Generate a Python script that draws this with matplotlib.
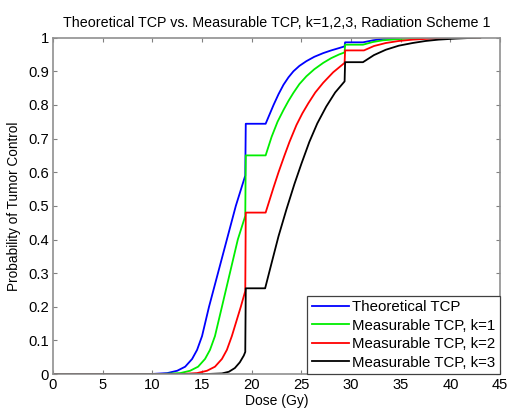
import numpy as np
import matplotlib
matplotlib.use('Agg')
import matplotlib.pyplot as plt

plt.rcParams['font.family'] = ['Liberation Sans', 'DejaVu Sans']

# Theoretical TCP
blue_dose = [0, 10, 11.5, 12.5, 13.3, 14.0, 14.5, 15.0, 15.7, 16.6, 17.5, 18.4, 19.35,
             19.4, 21.4, 22.2, 22.7, 23.2, 23.7, 24.2, 24.8, 25.5, 26.3, 27.2, 28.0, 28.8, 29.35,
             29.4, 31.2, 32.2, 33.2, 35.5, 38, 43]
blue_tcp = [0, 0.0005, 0.003, 0.01, 0.022, 0.045, 0.072, 0.113, 0.2, 0.3, 0.4, 0.5, 0.59,
            0.744, 0.744, 0.8, 0.832, 0.86, 0.882, 0.9, 0.916, 0.93, 0.943, 0.954, 0.962, 0.969, 0.974,
            0.986, 0.986, 0.992, 0.996, 0.999, 1.0, 1.0]

# Measurable TCP, k=1
green_dose = [0, 11, 12.8, 13.8, 14.6, 15.3, 15.8, 16.3, 17.0, 17.8, 18.6, 19.35,
              19.4, 21.4, 22.0, 22.6, 23.2, 23.7, 24.2, 24.8, 25.5, 26.3, 27.2, 28.0, 28.8, 29.35,
              29.4, 31.2, 32.2, 33.2, 34.5, 36, 40, 43]
green_tcp = [0, 0.0005, 0.003, 0.01, 0.022, 0.045, 0.072, 0.113, 0.2, 0.3, 0.4, 0.47,
             0.65, 0.65, 0.705, 0.75, 0.785, 0.812, 0.836, 0.862, 0.885, 0.906, 0.925, 0.939, 0.95, 0.956,
             0.979, 0.979, 0.987, 0.992, 0.995, 0.998, 1.0, 1.0]

# Measurable TCP, k=2
red_dose = [0, 13, 14.5, 15.5, 16.3, 17.0, 17.5, 18.0, 18.9, 19.35,
            19.4, 21.4, 22.2, 22.7, 23.3, 23.8, 24.5, 25.1, 25.7, 26.4, 27.2, 28.2, 29.35,
            29.4, 31.3, 32.3, 33.5, 34.8, 36.2, 38, 40, 43]
red_tcp = [0, 0.0005, 0.003, 0.01, 0.022, 0.045, 0.072, 0.113, 0.2, 0.247,
           0.48, 0.48, 0.555, 0.6, 0.65, 0.69, 0.74, 0.775, 0.805, 0.837, 0.866, 0.897, 0.925,
           0.962, 0.962, 0.975, 0.984, 0.99, 0.994, 0.997, 0.999, 1.0]

# Measurable TCP, k=3
black_dose = [0, 15.5, 17.0, 17.7, 18.3, 18.8, 19.2, 19.35,
              19.4, 21.35, 22.0, 22.7, 23.5, 24.3, 25.0, 25.8, 26.6, 27.5, 28.4, 29.35,
              29.4, 31.2, 32.3, 33.5, 34.8, 36.2, 37.5, 38.8, 40.5, 42.8, 43]
black_tcp = [0, 0.0003, 0.002, 0.007, 0.018, 0.035, 0.055, 0.066,
             0.255, 0.255, 0.33, 0.41, 0.49, 0.565, 0.625, 0.69, 0.745, 0.795, 0.837, 0.87,
             0.927, 0.927, 0.948, 0.964, 0.976, 0.984, 0.99, 0.994, 0.997, 1.0, 1.0]

fig = plt.figure(figsize=(5.15, 4.18), dpi=100)
ax = fig.add_axes([0.103, 0.105, 0.868, 0.805])

lw = 1.3
ax.plot(blue_dose, blue_tcp, color='#0000ff', lw=lw, label='Theoretical TCP')
ax.plot(green_dose, green_tcp, color='#00ee00', lw=lw, label='Measurable TCP, k=1')
ax.plot(red_dose, red_tcp, color='#ff0000', lw=lw, label='Measurable TCP, k=2')
ax.plot(black_dose, black_tcp, color='#000000', lw=lw, label='Measurable TCP, k=3')

ax.set_xlim(0, 45)
ax.set_ylim(0, 1)
ax.set_xticks(np.arange(0, 46, 5))
ax.set_yticks(np.arange(0, 1.01, 0.1))
ax.set_yticklabels(['0', '0.1', '0.2', '0.3', '0.4', '0.5', '0.6', '0.7', '0.8', '0.9', '1'])
ax.tick_params(direction='in', top=True, right=True, length=3, width=0.8,
               color='#808080', labelsize=10.6, pad=3)
for s in ax.spines.values():
    s.set_color('#909090')
    s.set_linewidth(1.2)

ax.set_title('Theoretical TCP vs. Measurable TCP, k=1,2,3, Radiation Scheme 1',
             fontsize=10.3, pad=8)
ax.set_xlabel('Dose (Gy)', fontsize=10, labelpad=1)
ax.set_ylabel('Probability of Tumor Control', fontsize=9.8, labelpad=5)

leg = ax.legend(loc='lower right', fontsize=10.8, borderaxespad=0, fancybox=False,
                framealpha=1, edgecolor='#404040', handlelength=2.5,
                handletextpad=0.2, labelspacing=0.3, borderpad=0.3)
leg.get_frame().set_linewidth(0.9)

fig.savefig('out.png', dpi=100)
